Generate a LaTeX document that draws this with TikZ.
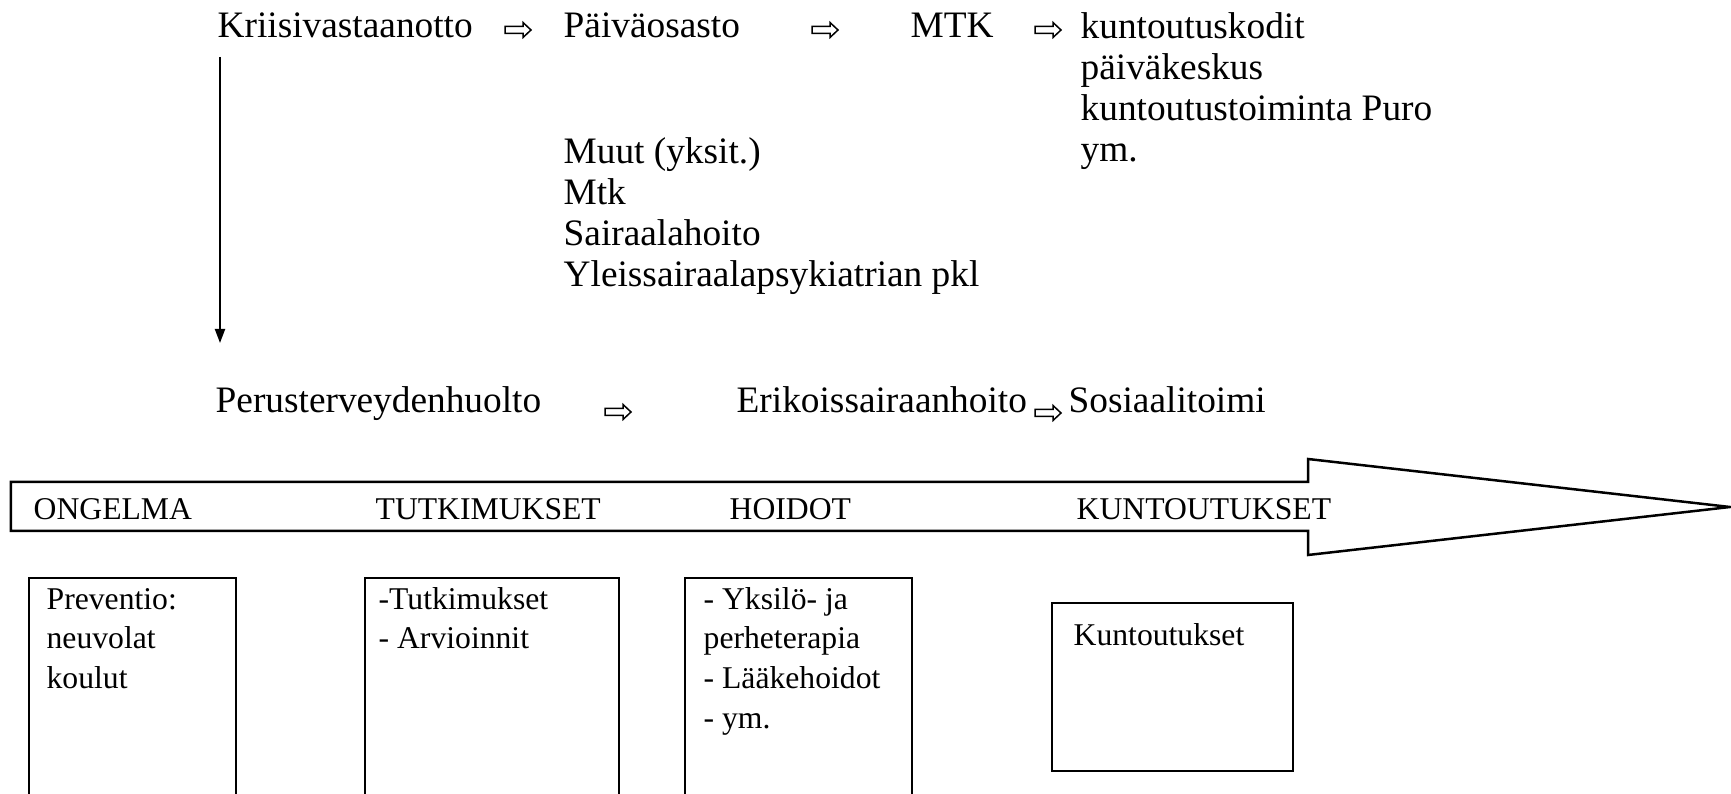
\documentclass[tikz,border=0pt]{standalone}
\usepackage{fontspec}
\setmainfont{Liberation Serif}
\usetikzlibrary{arrows.meta}
\begin{document}
\begin{tikzpicture}[x=0.3pt,y=-0.3pt,
  big/.style={font=\fontsize{11.2}{12.35}\selectfont, inner sep=0pt, anchor=base west, align=left},
  small/.style={font=\fontsize{9.5}{11.9}\selectfont, inner sep=0pt, anchor=base west, align=left},
  thinline/.style={line width=0.6pt},
  boxst/.style={draw, line width=0.6pt, inner sep=0pt, anchor=north west},
  banner/.style={draw, line width=0.75pt, line join=miter},
  warrow/.pic={\draw[line width=0.45pt, line join=miter] (0,-3.5) -- (18,-3.5) -- (18,-7.5) -- (26,0) -- (18,7.5) -- (18,3.5) -- (0,3.5) -- cycle;}
]
\useasboundingbox (0,0) rectangle (1731,794);

% top row (multi-line nodes are placed at the baseline of their last line)
\node[big] (kriisi) at (217,38) {Kriisivastaanotto};
\pic (a1) at (505,30) {warrow};
\node[big] (paiva) at (563,38) {Päiväosasto};
\pic (a2) at (812,30) {warrow};
\node[big] (mtk) at (910,38) {MTK};
\pic (a3) at (1035,30) {warrow};
\node[big] (kunt) at (1080,161.6) {kuntoutuskodit\\päiväkeskus\\kuntoutustoiminta Puro\\ym.};
\node[big] (muut) at (563,286.6) {Muut (yksit.)\\Mtk\\Sairaalahoito\\Yleissairaalapsykiatrian pkl};

% vertical arrow
\coordinate (vt) at (220,57);
\coordinate (vb) at (220,343);
\draw[thinline,-{Triangle[length=4.2pt,width=3pt]}] (vt) -- (vb);

% bottom row
\node[big] (perus) at (215,413) {Perusterveydenhuolto};
\pic (b1a) at (605,412) {warrow};
\node[big] (erik) at (736,413) {Erikoissairaanhoito};
\pic (b2a) at (1035,413) {warrow};
\node[big] (sos) at (1068,413) {Sosiaalitoimi};

% banner arrow
\draw[banner] (11,482) -- (1308,482) -- (1308,459) -- (1730,507) -- (1308,555) -- (1308,531) -- (11,531) -- cycle;
\node[small] (l1) at (33,520) {ONGELMA};
\node[small] (l2) at (375,520) {TUTKIMUKSET};
\node[small] (l3) at (729,520) {HOIDOT};
\node[small] (l4) at (1076,520) {KUNTOUTUKSET};

% boxes
\node[boxst, minimum width=62.2pt, minimum height=66.9pt] (box1) at (27.6,577) {};
\node[boxst, minimum width=76.2pt, minimum height=66.9pt] (box2) at (364,577) {};
\node[boxst, minimum width=68.1pt, minimum height=66.9pt] (box3) at (684,577) {};
\node[boxst, minimum width=72.3pt, minimum height=50.4pt] (box4) at (1051,602) {};
\node[small] (t1) at (46,688.4) {Preventio:\\neuvolat\\koulut};
\node[small] (t2) at (378,648.7) {-Tutkimukset\\- Arvioinnit};
\node[small] (t3) at (703,728.1) {- Yksilö- ja\\perheterapia\\- Lääkehoidot\\- ym.};
\node[small] (t4) at (1073,646) {Kuntoutukset};
\end{tikzpicture}
\end{document}
